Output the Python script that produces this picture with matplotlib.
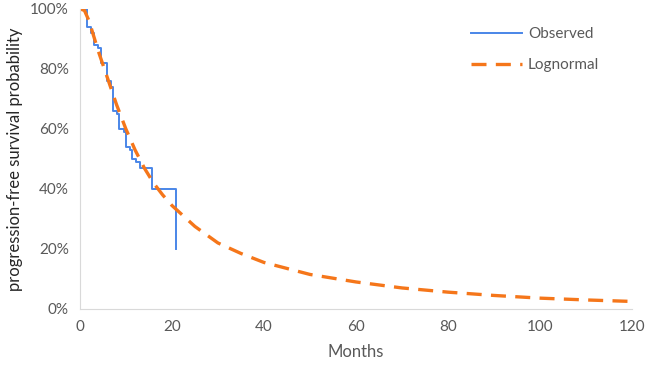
import matplotlib
matplotlib.use("Agg")
import matplotlib.pyplot as plt
from matplotlib.ticker import PercentFormatter

# Observed (Kaplan-Meier style steps), months vs survival %
obs_months = [0, 1.5, 2.5, 3.1, 4.0, 4.5, 6.0, 6.7, 7.3, 8.0, 8.6, 9.5, 10.1, 10.8, 11.3, 12.3, 13.0, 15.6, 21.0, 21.0]
obs_surv = [100, 94, 92, 88, 87, 82, 76, 74, 66, 65, 60, 59, 54, 53, 50, 49, 47, 40, 40, 20]

# Lognormal fit
ln_months = [0, 1, 2, 3, 4, 6, 8, 10, 12, 14, 16, 18, 20, 25, 30, 35, 40, 50, 60, 70, 80, 90, 100, 110, 120]
ln_surv = [100, 99.5, 96, 91, 86, 77, 68, 60, 53, 47, 42, 38, 34.5, 27.5, 22, 18.5, 15.5, 11.5, 9, 7, 5.6, 4.5, 3.6, 3.0, 2.5]

plt.rcParams['font.family'] = ['Lato', 'DejaVu Sans']

fig = plt.figure(figsize=(6.49, 3.70), dpi=100)
ax = fig.add_axes([0.123, 0.165, 0.851, 0.811])

ax.plot(obs_months, obs_surv, color='#4a86e8', lw=1.4, drawstyle='steps-post', label='Observed')
ax.plot(ln_months, ln_surv, color='#f5761a', lw=2.4, ls=(0, (4.5, 2.8)), label='Lognormal')

ax.set_xlim(0, 120)
ax.set_ylim(0, 100)
ax.set_xticks(range(0, 121, 20))
ax.set_yticks(range(0, 101, 20))
ax.yaxis.set_major_formatter(PercentFormatter(decimals=0))

for s in ['top', 'right']:
    ax.spines[s].set_visible(False)
for s in ['left', 'bottom']:
    ax.spines[s].set_color('#d9d9d9')
ax.tick_params(length=0, labelsize=11, labelcolor='#595959', pad=8)

ax.set_xlabel('Months', fontsize=12, color='#595959', labelpad=7)
ax.set_ylabel('progression-free survival probability', fontsize=12, color='#262626', labelpad=5)

ax.legend(loc='upper right', frameon=False, fontsize=11, labelcolor='#595959',
          handlelength=3.3, handletextpad=0.4, labelspacing=1.1,
          bbox_to_anchor=(0.965, 0.985))

fig.savefig('out.png', dpi=100)
